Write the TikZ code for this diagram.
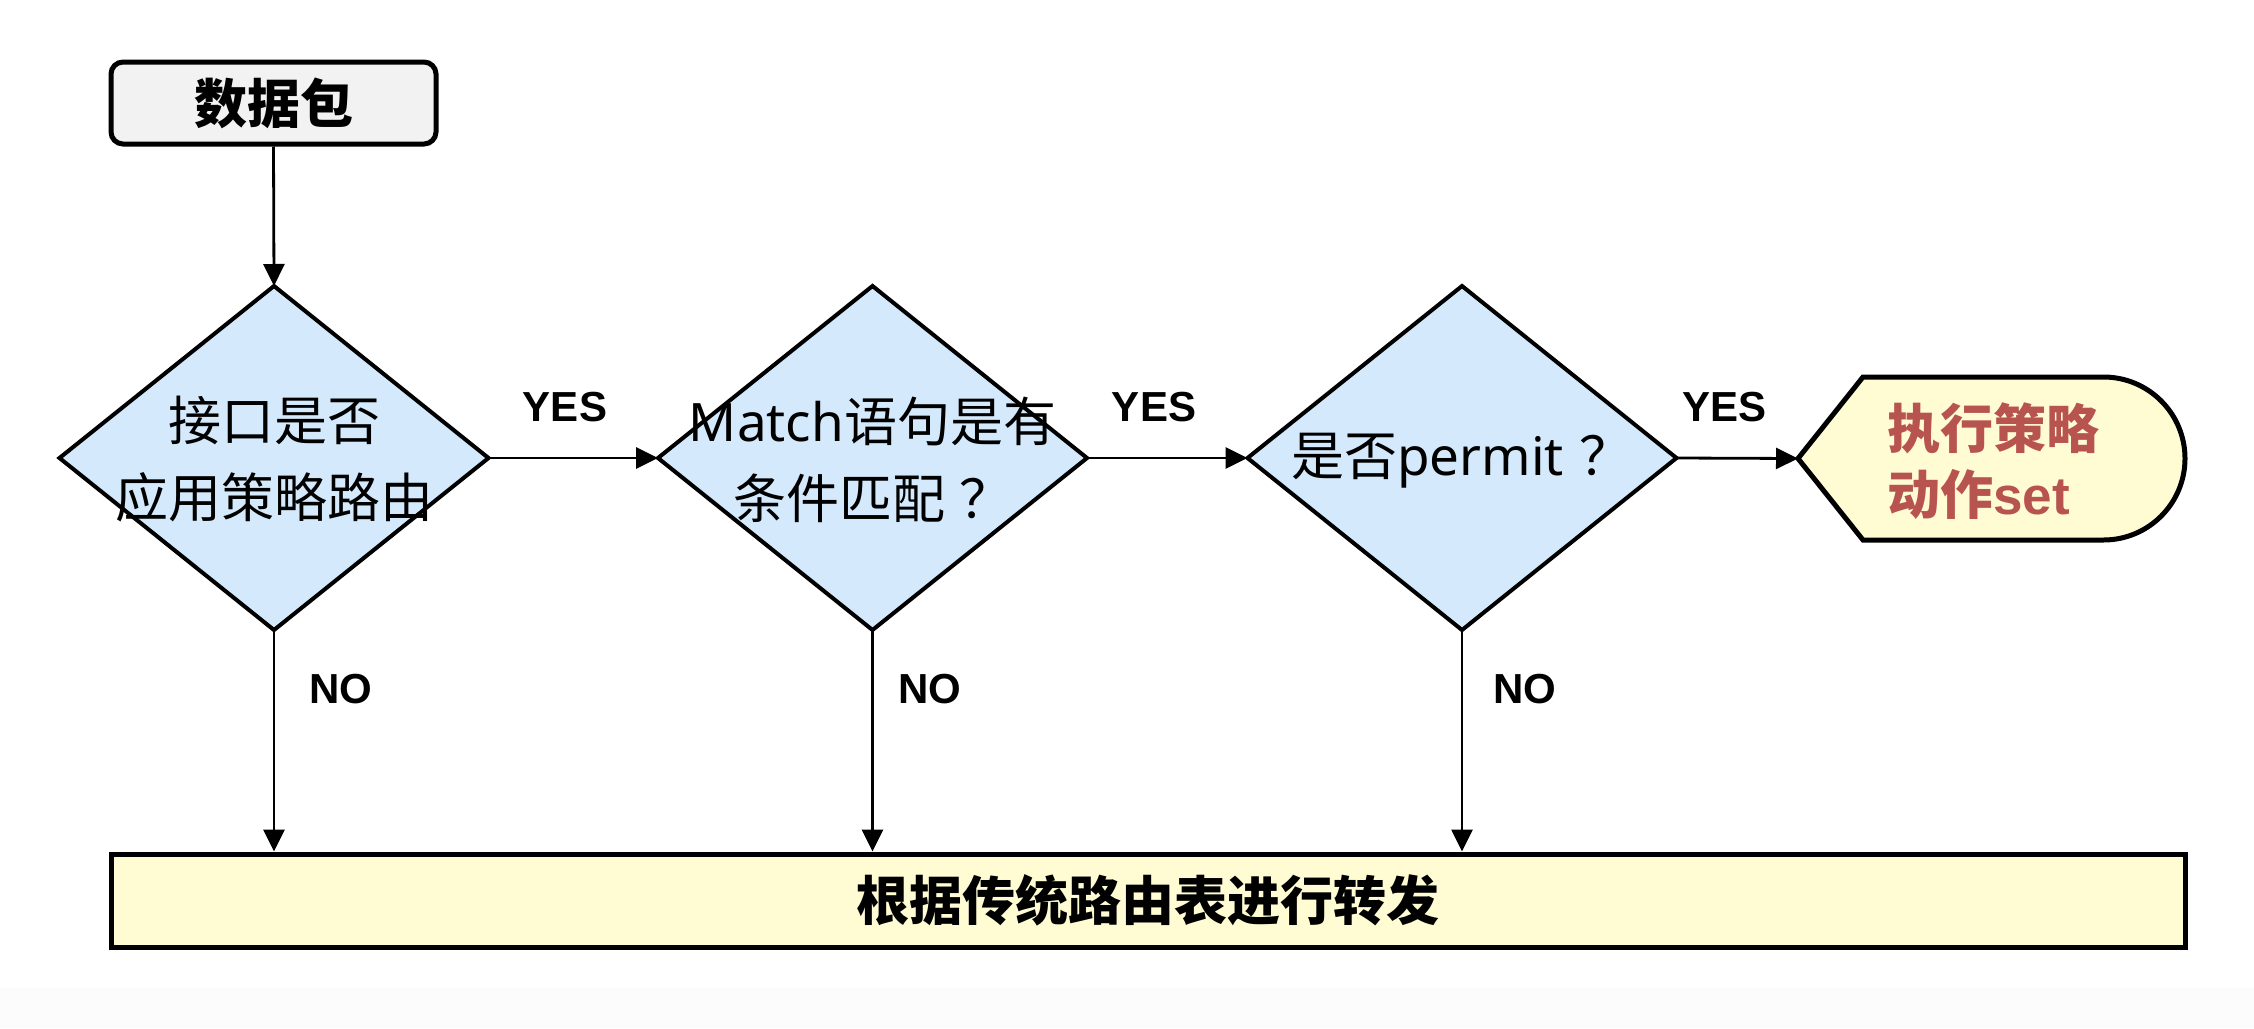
\documentclass[tikz,border=0pt]{standalone}
\usepackage{fontspec}
\setmainfont{Noto Sans}
\newfontfamily\cjk{Noto Sans CJK SC}
\newfontfamily\arl{Liberation Sans}
\usetikzlibrary{shapes.geometric,arrows.meta}
\definecolor{dfill}{HTML}{D4EAFC}
\definecolor{yfill}{HTML}{FFFCD3}
\definecolor{gfill}{HTML}{F2F2F2}
\definecolor{actred}{HTML}{B85450}
\definecolor{bandgray}{HTML}{FCFCFC}
\tikzset{
  decision/.style={diamond, draw=black, line width=4pt, fill=dfill, inner sep=0pt, outer sep=0pt,
    minimum width=429pt, minimum height=344pt},
  dtext/.style={align=center, font=\fontsize{53}{77}\selectfont, text=black},
  arr/.style={draw=black, line width=2.8pt, -{Triangle[length=22pt,width=21pt]}},
  yn/.style={font=\arl\bfseries\fontsize{42}{50}\selectfont, text=black},
  bigbold/.style={font=\cjk\bfseries\fontsize{53}{60}\selectfont, text=black},
}
\begin{document}
\begin{tikzpicture}[x=1pt,y=-1pt]
\useasboundingbox (0,0) rectangle (2254,1028);
\fill[white] (0,0) rectangle (2254,1028);
\fill[bandgray] (0,988) rectangle (2254,1028);

% start box
\node[draw=black, line width=5pt, fill=gfill, rounded corners=12pt, minimum width=325pt, minimum height=82pt,
  inner sep=0pt, bigbold] (pkt) at (273.5,103) {数据包};

% decisions
\node[decision] (d1) at (274,458) {};
\node[dtext] (t1) at (274,459.5) {{\cjk 接口是否}\\{\cjk 应用策略路由}};
\node[decision] (d2) at (872.5,458) {};
\node[dtext] (t2) at (872.5,459.5) {Match{\cjk 语句是有}\\{\cjk 条件匹配\hspace{14pt}？}};
\node[decision] (d3) at (1462,458) {};
\node[dtext] (t3) at (1462,461) {{\cjk 是否}permit{\cjk \hspace{16pt}？}};

% action shape
\node[minimum width=387pt, minimum height=163pt, inner sep=0pt, outer sep=0pt] (act) at (1991.5,458.5) {};
\draw[line width=5pt, fill=yfill, line join=miter]
  ([xshift=65pt]act.north west) -- (act.west) -- ([xshift=65pt]act.south west)
  -- ([xshift=-81.5pt]act.south east) arc(-90:90:81.5pt) -- cycle;
\node[anchor=west, align=left, text=actred, font=\cjk\bfseries\fontsize{53}{66}\selectfont, inner sep=0pt]
  (acttxt) at (1887,461) {执行策略\\动作{\arl\bfseries set}};

% bottom box
\node[draw=black, line width=5pt, fill=yfill, minimum width=2074pt, minimum height=93pt, inner sep=0pt,
  bigbold] (fwd) at (1148,900.5) {根据传统路由表进行转发};

% connectors
\draw[arr] (pkt.south) -- (d1.north);
\draw[arr] (d1.east) -- (d2.west);
\draw[arr] (d2.east) -- (d3.west);
\draw[arr] (d3.east) -- (act.west);
\draw[arr] (d1.south) -- (d1.south |- fwd.north);
\draw[arr] (d2.south) -- (d2.south |- fwd.north);
\draw[arr] (d3.south) -- (d3.south |- fwd.north);

% labels
\node[yn] (y1) at (565,407) {YES};
\node[yn] (y2) at (1154,407) {YES};
\node[yn] (y3) at (1724,407) {YES};
\node[yn] (n1) at (341,689) {NO};
\node[yn] (n2) at (930,689) {NO};
\node[yn] (n3) at (1525,689) {NO};
\end{tikzpicture}
\end{document}
